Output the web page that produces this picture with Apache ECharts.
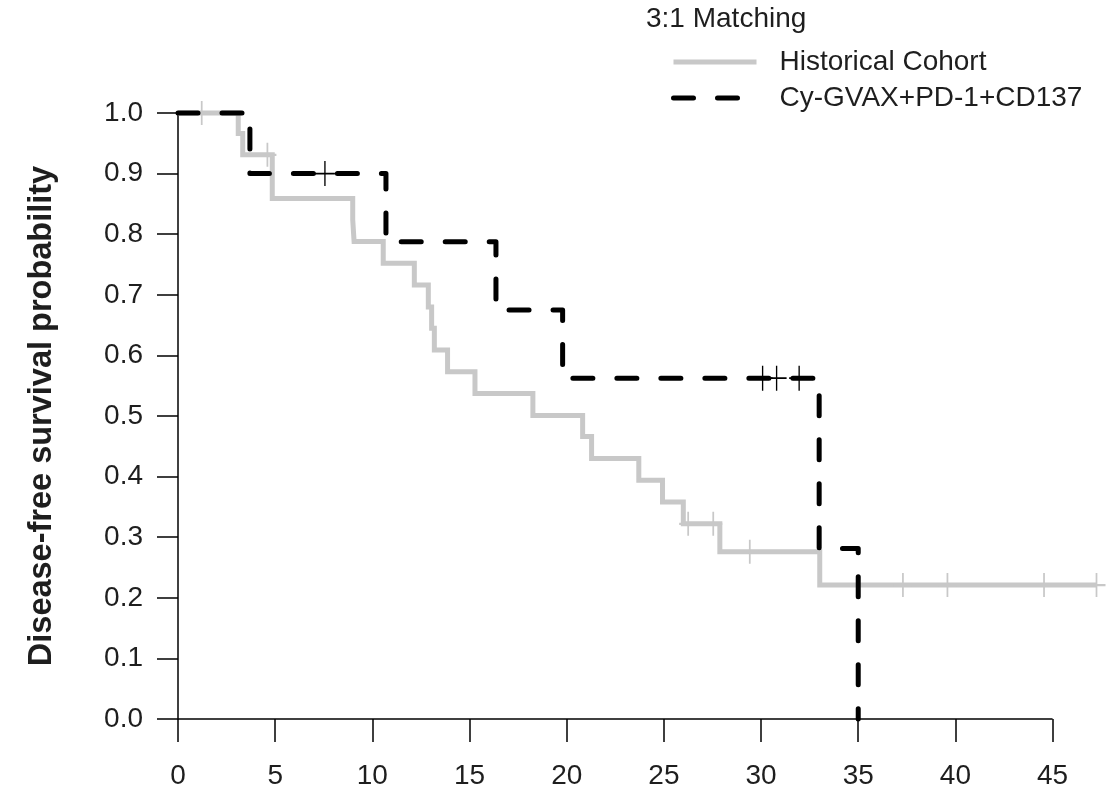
<!DOCTYPE html>
<html>
<head>
<meta charset="utf-8">
<script src="https://cdn.jsdelivr.net/npm/echarts@6/dist/echarts.min.js"></script>
<style>
html,body{margin:0;padding:0;background:#fff;}
#chart{width:1107px;height:806px;}
</style>
</head>
<body>
<div id="chart"></div>
<script>
// ---- data ----
const xTicks = [0, 5, 10, 15, 20, 25, 30, 35, 40, 45];
const yTicks = [0, 0.1, 0.2, 0.3, 0.4, 0.5, 0.6, 0.7, 0.8, 0.9, 1.0];

const histName = 'Historical Cohort';
const histTimes = [0, 3.1, 3.33, 4.85, 8.99, 9.06, 10.56, 12.16, 12.88, 13.05, 13.19, 13.87, 15.28, 18.26, 20.82, 21.28, 23.71, 24.93, 26.0, 27.88, 33.02];
const histSurv  = [1.0, 0.966, 0.931, 0.859, 0.824, 0.788, 0.752, 0.716, 0.680, 0.645, 0.609, 0.573, 0.537, 0.501, 0.466, 0.430, 0.394, 0.358, 0.322, 0.276, 0.221];
const histEnd = 47.26;
const histCensor = [1.22, 4.6, 26.25, 27.54, 29.42, 37.3, 39.59, 44.56, 47.26];

const trtName = 'Cy-GVAX+PD-1+CD137';
const trtTimes = [0, 3.7, 10.7, 16.36, 19.79, 32.99, 35.0];
const trtSurv  = [1.0, 0.9, 0.7875, 0.675, 0.5625, 0.2813, 0.0];
const trtEnd = 35.0;
const trtCensor = [7.56, 30.08, 30.8, 31.96];

const legendTitle = '3:1 Matching';
const yName = 'Disease-free survival probability';
const xViewMax = 47.8; // plot region extends a little past the last tick

// ---- helpers ----
function stepPath(times, surv, end) {
  const pts = [[times[0], surv[0]]];
  for (let i = 1; i < times.length; i++) {
    pts.push([times[i], surv[i - 1]]);
    pts.push([times[i], surv[i]]);
  }
  if (end > times[times.length - 1]) pts.push([end, surv[surv.length - 1]]);
  return pts;
}
function survAt(times, surv, t) {
  let s = surv[0];
  for (let i = 0; i < times.length; i++) if (times[i] <= t) s = surv[i];
  return s;
}
const plusPath = 'path://M10,0L10,24M0,12L20,12';
const FONT = 'Liberation Sans, Arial, Helvetica, sans-serif';
const GREY = '#c8c8c8';

const chart = echarts.init(document.getElementById('chart'), null, {renderer: 'canvas'});
chart.setOption({
  animation: false,
  backgroundColor: '#ffffff',
  textStyle: {fontFamily: FONT},
  title: {
    text: legendTitle, left: 646, top: 5, padding: 0,
    textStyle: {fontFamily: FONT, fontSize: 28, fontWeight: 'normal', color: '#1e1e1e'}
  },
  legend: {
    data: [histName, trtName],
    icon: 'inherit',
    orient: 'vertical', left: 671, top: 47, padding: 0,
    itemWidth: 83, itemHeight: 10, itemGap: 6,
    lineStyle: {width: 5},
    itemStyle: {color: 'rgba(0,0,0,0)', borderWidth: 0, opacity: 0},
    textStyle: {fontFamily: FONT, fontSize: 28, color: '#1e1e1e', lineHeight: 30, padding: [0, 0, 0, 18]},
    selectedMode: false
  },
  grid: {left: 178, right: 0, top: 113, bottom: 87, containLabel: false},
  xAxis: {
    type: 'value', min: xTicks[0], max: xViewMax,
    axisLine: {show: false},
    axisTick: {show: true, inside: false, length: 23, customValues: xTicks, lineStyle: {color: '#000', width: 1.5}},
    axisLabel: {fontFamily: FONT, fontSize: 28, color: '#1e1e1e', margin: 43, customValues: xTicks},
    splitLine: {show: false}
  },
  yAxis: {
    type: 'value', min: yTicks[0], max: yTicks[yTicks.length - 1], interval: 0.1,
    axisLine: {show: true, lineStyle: {color: '#000', width: 1.5}},
    axisTick: {show: true, inside: false, length: 21, lineStyle: {color: '#000', width: 1.5}},
    axisLabel: {fontFamily: FONT, fontSize: 28, color: '#1e1e1e', margin: 35,
      formatter: v => v.toFixed(1)},
    splitLine: {show: false},
    name: yName, nameLocation: 'middle', nameGap: 119, nameRotate: 90,
    nameTextStyle: {fontFamily: FONT, fontSize: 32.5, fontWeight: 'bold', color: '#1e1e1e'}
  },
  series: [
    {
      name: 'x-axis line', type: 'line',
      data: [[xTicks[0], yTicks[0]], [xTicks[xTicks.length - 1], yTicks[0]]],
      symbol: 'none', clip: false, z: 1, silent: true,
      lineStyle: {color: '#000', width: 1.5}
    },
    {
      name: histName, type: 'line', data: stepPath(histTimes, histSurv, histEnd),
      symbol: 'none', clip: false, z: 2,
      lineStyle: {color: GREY, width: 5, cap: 'butt', join: 'miter'},
      itemStyle: {color: GREY}
    },
    {
      name: histName + ' censored', type: 'scatter',
      data: histCensor.map(t => [t, survAt(histTimes, histSurv, t)]),
      symbol: plusPath, symbolSize: [18, 24], clip: false, z: 3,
      itemStyle: {color: 'none', borderColor: GREY, borderWidth: 2, opacity: 1}
    },
    {
      name: trtName, type: 'line', data: stepPath(trtTimes, trtSurv, trtEnd),
      symbol: 'none', clip: false, z: 4,
      lineStyle: {color: '#000', width: 5, type: [20, 24], cap: 'round', join: 'round'},
      itemStyle: {color: '#000'}
    },
    {
      name: trtName + ' censored', type: 'scatter',
      data: trtCensor.map(t => [t, survAt(trtTimes, trtSurv, t)]),
      symbol: plusPath, symbolSize: [20, 25], clip: false, z: 5,
      itemStyle: {color: 'none', borderColor: '#000', borderWidth: 1.5, opacity: 1}
    }
  ]
});
</script>
</body>
</html>
